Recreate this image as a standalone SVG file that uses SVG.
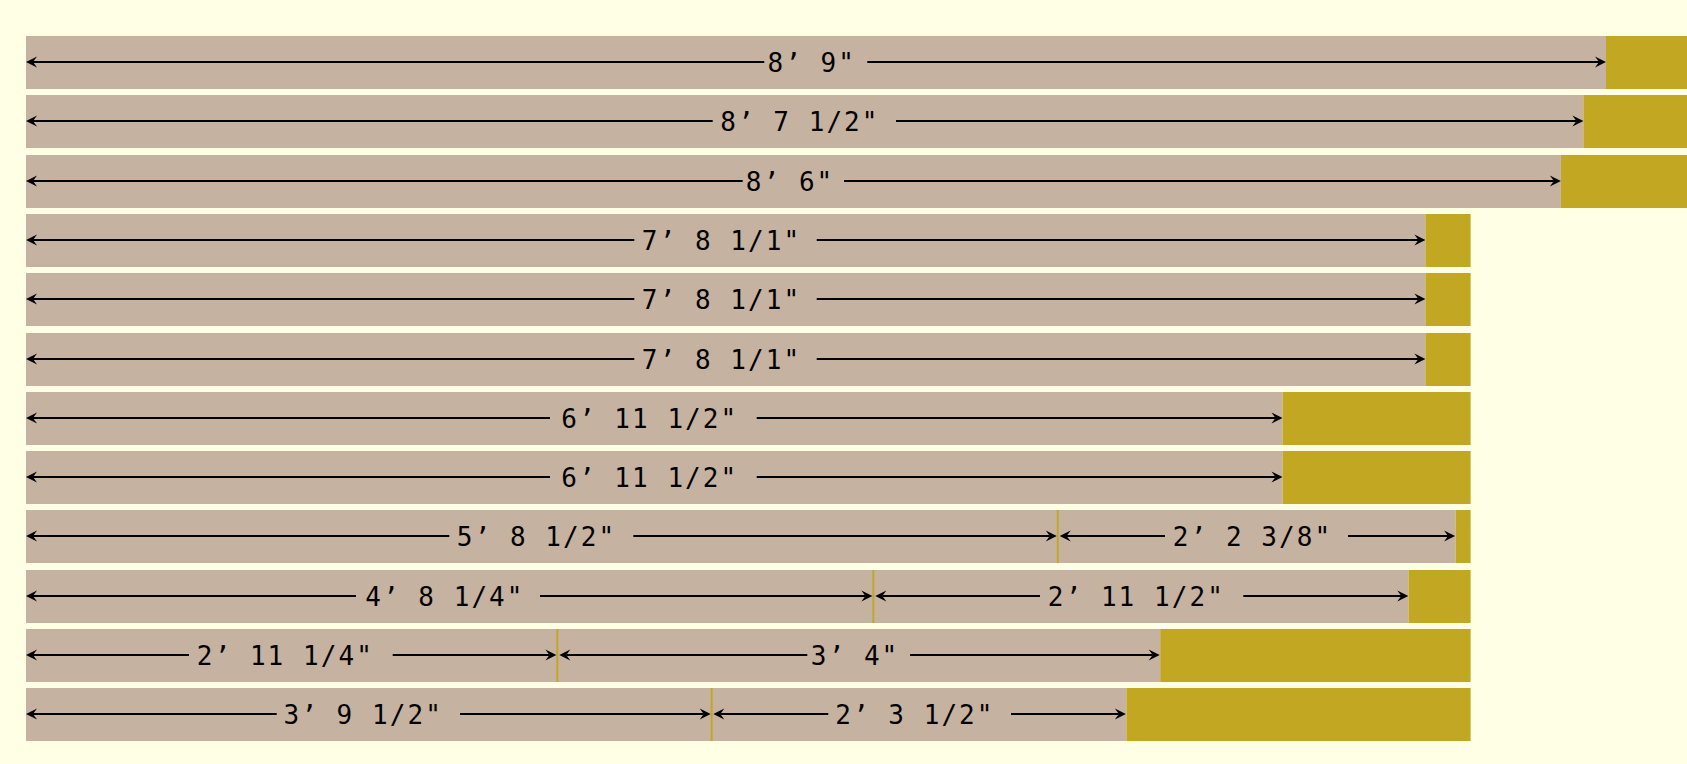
<svg xmlns="http://www.w3.org/2000/svg" width="1687" height="764" viewBox="0 0 1687 764">
<style>
.bg{fill:#FFFFE6}
.wood{fill:#C6B2A0}
.scrap{fill:#C2A722}
.kerf{fill:#C2A722}
.lbl{font-family:"DejaVu Sans Mono","Liberation Mono",monospace;font-size:26px;letter-spacing:2.05px;fill:#000}
.dim{fill:none;stroke:#000;stroke-width:2;marker-start:url(#ah);marker-end:url(#ah)}
</style>
<defs>
<marker id="ah" markerUnits="userSpaceOnUse" markerWidth="24" markerHeight="24" refX="0" refY="0" orient="auto-start-reverse" overflow="visible">
<path d="M7,0 L-4,-5.5 L0,0 L-4,5.5 Z" fill="#000"/>
</marker>
</defs>
<rect class="bg" x="0" y="0" width="1687" height="764"/>

<g id="board-1">
<rect class="wood" x="26" y="36" width="1580" height="53"/>
<rect class="scrap" x="1606" y="36" width="81" height="53"/>
<text class="lbl" x="767.5" y="71.5">8’ 9"</text>
</g>
<g id="board-2">
<rect class="wood" x="26" y="95" width="1557.4" height="53"/>
<rect class="scrap" x="1583.4" y="95" width="103.6" height="53"/>
<text class="lbl" x="720.2" y="130.5">8’ 7 1/2"</text>
</g>
<g id="board-3">
<rect class="wood" x="26" y="155" width="1534.9" height="53"/>
<rect class="scrap" x="1560.9" y="155" width="126.1" height="53"/>
<text class="lbl" x="745.8" y="190.5">8’ 6"</text>
</g>
<g id="board-4">
<rect class="wood" x="26" y="214" width="1399.4" height="53"/>
<rect class="scrap" x="1425.4" y="214" width="45.2" height="53"/>
<text class="lbl" x="641.8" y="249.5">7’ 8 1/1"</text>
</g>
<g id="board-5">
<rect class="wood" x="26" y="273" width="1399.4" height="53"/>
<rect class="scrap" x="1425.4" y="273" width="45.2" height="53"/>
<text class="lbl" x="641.8" y="308.5">7’ 8 1/1"</text>
</g>
<g id="board-6">
<rect class="wood" x="26" y="333" width="1399.4" height="53"/>
<rect class="scrap" x="1425.4" y="333" width="45.2" height="53"/>
<text class="lbl" x="641.8" y="368.5">7’ 8 1/1"</text>
</g>
<g id="board-7">
<rect class="wood" x="26" y="392" width="1256.5" height="53"/>
<rect class="scrap" x="1282.5" y="392" width="188.1" height="53"/>
<text class="lbl" x="561.2" y="427.5">6’ 11 1/2"</text>
</g>
<g id="board-8">
<rect class="wood" x="26" y="451" width="1256.5" height="53"/>
<rect class="scrap" x="1282.5" y="451" width="188.1" height="53"/>
<text class="lbl" x="561.2" y="486.5">6’ 11 1/2"</text>
</g>
<g id="board-9">
<rect class="wood" x="26" y="510" width="1429.6" height="53"/>
<rect class="scrap" x="1455.6" y="510" width="15" height="53"/>
<rect class="kerf" x="1056.8" y="510" width="1.9" height="53"/>
<text class="lbl" x="456.8" y="545.5">5’ 8 1/2"</text>
<text class="lbl" x="1172.8" y="545.5">2’ 2 3/8"</text>
</g>
<g id="board-10">
<rect class="wood" x="26" y="570" width="1382.5" height="53"/>
<rect class="scrap" x="1408.5" y="570" width="62.1" height="53"/>
<rect class="kerf" x="872.4" y="570" width="1.9" height="53"/>
<text class="lbl" x="365.2" y="605.5">4’ 8 1/4"</text>
<text class="lbl" x="1047.8" y="605.5">2’ 11 1/2"</text>
</g>
<g id="board-11">
<rect class="wood" x="26" y="629" width="1134.2" height="53"/>
<rect class="scrap" x="1160.2" y="629" width="310.4" height="53"/>
<rect class="kerf" x="556.4" y="629" width="1.9" height="53"/>
<text class="lbl" x="196.8" y="664.5">2’ 11 1/4"</text>
<text class="lbl" x="810.8" y="664.5">3’ 4"</text>
</g>
<g id="board-12">
<rect class="wood" x="26" y="688" width="1100.4" height="53"/>
<rect class="scrap" x="1126.4" y="688" width="344.2" height="53"/>
<rect class="kerf" x="710.7" y="688" width="1.9" height="53"/>
<text class="lbl" x="283.5" y="723.5">3’ 9 1/2"</text>
<text class="lbl" x="835.2" y="723.5">2’ 3 1/2"</text>
</g>

<g id="dimensions">
<path class="dim" d="M33,62 H764.3 M867.3,62 H1599"/>
<path class="dim" d="M33,121 H712.7 M896,121 H1576.4"/>
<path class="dim" d="M33,181 H742.7 M844,181 H1553.9"/>
<path class="dim" d="M33,240 H634.3 M816.7,240 H1418.4"/>
<path class="dim" d="M33,299 H634.3 M816.7,299 H1418.4"/>
<path class="dim" d="M33,359 H634.3 M816.7,359 H1418.4"/>
<path class="dim" d="M33,418 H550 M756.7,418 H1275.5"/>
<path class="dim" d="M33,477 H550 M756.7,477 H1275.5"/>
<path class="dim" d="M33,536 H449.3 M633.3,536 H1049.8"/>
<path class="dim" d="M1066.7,536 H1165 M1348,536 H1448.1"/>
<path class="dim" d="M33,596 H356 M540,596 H865.4"/>
<path class="dim" d="M882.3,596 H1040 M1243.3,596 H1401.3"/>
<path class="dim" d="M33,655 H189 M392.7,655 H549.4"/>
<path class="dim" d="M566.3,655 H807.3 M910,655 H1152.7"/>
<path class="dim" d="M33,714 H276.7 M460,714 H703.7"/>
<path class="dim" d="M720.3,714 H828.3 M1011,714 H1118.9"/>
</g>
</svg>
